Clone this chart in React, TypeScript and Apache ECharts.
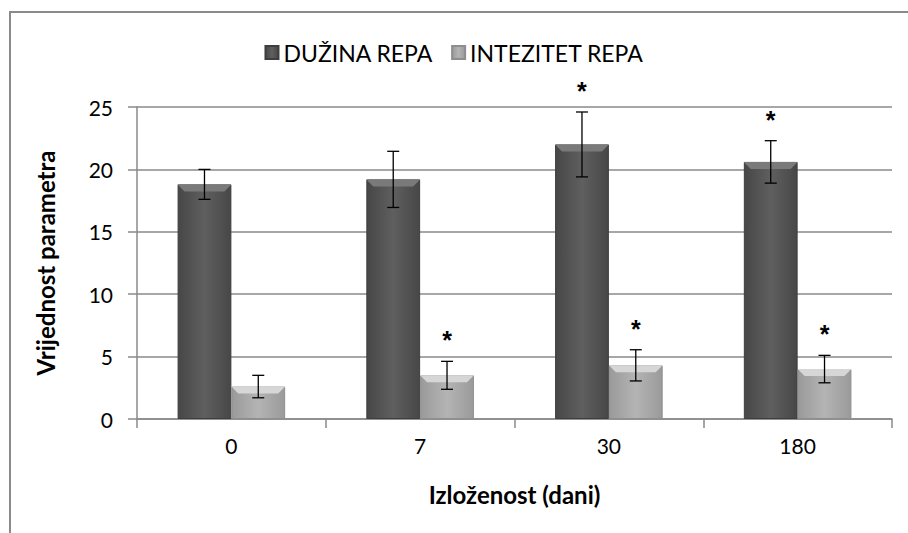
import React, { useEffect, useRef } from "react";
import * as echarts from "echarts";

const categories = ["0", "7", "30", "180"];
const seriesNames = ["DUŽINA REPA", "INTEZITET REPA"];
const duzina = [18.8, 19.2, 22.0, 20.6];
const duzinaErr = [1.2, 2.25, 2.6, 1.7];
const intezitet = [2.6, 3.5, 4.3, 4.0];
const intezitetErr = [0.9, 1.12, 1.25, 1.1];
const duzinaSig = [false, false, true, true];
const intezitetSig = [false, true, true, true];
const yTicks = [0, 5, 10, 15, 20, 25];

const FONT = "Lato, 'Open Sans', sans-serif";
const CAT_GAP = 0.43;

export default function App() {
  const ref = useRef<HTMLDivElement>(null);
  useEffect(() => {
    document.body.style.margin = "0";
    const chart = echarts.init(ref.current!, null, { renderer: "svg" });

    const darkFill = new echarts.graphic.LinearGradient(0, 0, 1, 0, [
      { offset: 0, color: "#474747" },
      { offset: 0.5, color: "#5f5f5f" },
      { offset: 1, color: "#474747" },
    ]);
    const lightFill = new echarts.graphic.LinearGradient(0, 0, 1, 0, [
      { offset: 0, color: "#9a9a9a" },
      { offset: 0.5, color: "#b4b4b4" },
      { offset: 1, color: "#9a9a9a" },
    ]);

    const makeOverlay = (
      values: number[],
      errs: number[],
      sig: boolean[],
      side: number,
      bevelColor: string
    ) => ({
      type: "custom",
      z: 5,
      silent: true,
      data: values.map((v, i) => [i, v, errs[i], sig[i] ? 1 : 0]),
      renderItem: (params: any, api: any) => {
        const i = api.value(0);
        const v = api.value(1);
        const e = api.value(2);
        const s = api.value(3);
        const band = api.size([1, 0])[0];
        const bw = (band * (1 - CAT_GAP)) / 2;
        const c = api.coord([i, v]);
        const cx = c[0] + (side * bw) / 2;
        const top = c[1];
        const hi = api.coord([i, v + e])[1];
        const lo = api.coord([i, v - e])[1];
        const x0 = cx - bw / 2;
        const x1 = cx + bw / 2;
        const bev = 7;
        const children: any[] = [
          {
            type: "polygon",
            shape: {
              points: [
                [x0, top],
                [x1, top],
                [x1 - bev, top + bev],
                [x0 + bev, top + bev],
              ],
            },
            style: { fill: bevelColor },
          },
          { type: "line", shape: { x1: cx, y1: hi, x2: cx, y2: lo }, style: { stroke: "#000", lineWidth: 1.3 } },
          { type: "line", shape: { x1: cx - 6, y1: hi, x2: cx + 6, y2: hi }, style: { stroke: "#000", lineWidth: 1.3 } },
          { type: "line", shape: { x1: cx - 6, y1: lo, x2: cx + 6, y2: lo }, style: { stroke: "#000", lineWidth: 1.3 } },
        ];
        if (s) {
          children.push({
            type: "text",
            style: {
              text: "*",
              x: cx,
              y: hi - 21,
              align: "center",
              verticalAlign: "middle",
              fontSize: 25,
              fontWeight: "bold",
              fontFamily: "'Liberation Sans', Arial, sans-serif",
              fill: "#000",
            },
          });
        }
        return { type: "group", children };
      },
    });

    chart.setOption({
      animation: false,
      backgroundColor: "#fff",
      graphic: [
        {
          type: "rect",
          shape: { x: 10, y: 12, width: 920, height: 540 },
          style: { fill: "none", stroke: "#8a8a8a", lineWidth: 2 },
          silent: true,
          z: 100,
        },
      ],
      legend: {
        top: 36,
        left: "center",
        itemGap: 18,
        itemWidth: 13,
        itemHeight: 13,
        icon: "rect",
        textStyle: { fontFamily: FONT, fontSize: 23, color: "#000" },
        data: seriesNames,
      },
      grid: { left: 137, right: 16, top: 107, bottom: 114 },
      xAxis: {
        type: "category",
        data: categories,
        name: "Izloženost (dani)",
        nameLocation: "middle",
        nameGap: 63,
        nameTextStyle: { fontFamily: FONT, fontSize: 24, fontWeight: "bold", color: "#000" },
        axisLine: { lineStyle: { color: "#8a8a8a", width: 1.5 } },
        axisTick: { show: true, length: 9, lineStyle: { color: "#8a8a8a", width: 1.5 } },
        axisLabel: { fontFamily: FONT, fontSize: 21, color: "#000", margin: 16 },
      },
      yAxis: {
        type: "value",
        min: 0,
        max: 25,
        interval: 5,
        name: "Vrijednost parametra",
        nameLocation: "middle",
        nameGap: 80,
        nameTextStyle: { fontFamily: FONT, fontSize: 24, fontWeight: "bold", color: "#000" },
        axisLine: { show: true, lineStyle: { color: "#8a8a8a", width: 1.5 } },
        axisTick: { show: true, length: 9, lineStyle: { color: "#8a8a8a", width: 1.5 } },
        axisLabel: {
          fontFamily: FONT,
          fontSize: 21,
          color: "#000",
          margin: 24,
          formatter: (v: number) => (yTicks.includes(v) ? String(v) : ""),
        },
        splitLine: { lineStyle: { color: "#8a8a8a", width: 1.5 } },
      },
      series: [
        {
          name: seriesNames[0],
          type: "bar",
          data: duzina,
          barGap: "0%",
          barCategoryGap: CAT_GAP * 100 + "%",
          itemStyle: { color: darkFill, borderColor: "#3e3e3e", borderWidth: 1 },
          z: 3,
        },
        {
          name: seriesNames[1],
          type: "bar",
          data: intezitet,
          barGap: "0%",
          barCategoryGap: CAT_GAP * 100 + "%",
          itemStyle: { color: lightFill, borderColor: "#8e8e8e", borderWidth: 1 },
          z: 3,
        },
        makeOverlay(duzina, duzinaErr, duzinaSig, -1, "#7a7a7a"),
        makeOverlay(intezitet, intezitetErr, intezitetSig, 1, "#d6d6d6"),
      ],
    });
    return () => chart.dispose();
  }, []);
  return <div ref={ref} style={{ width: 908, height: 533 }} />;
}
